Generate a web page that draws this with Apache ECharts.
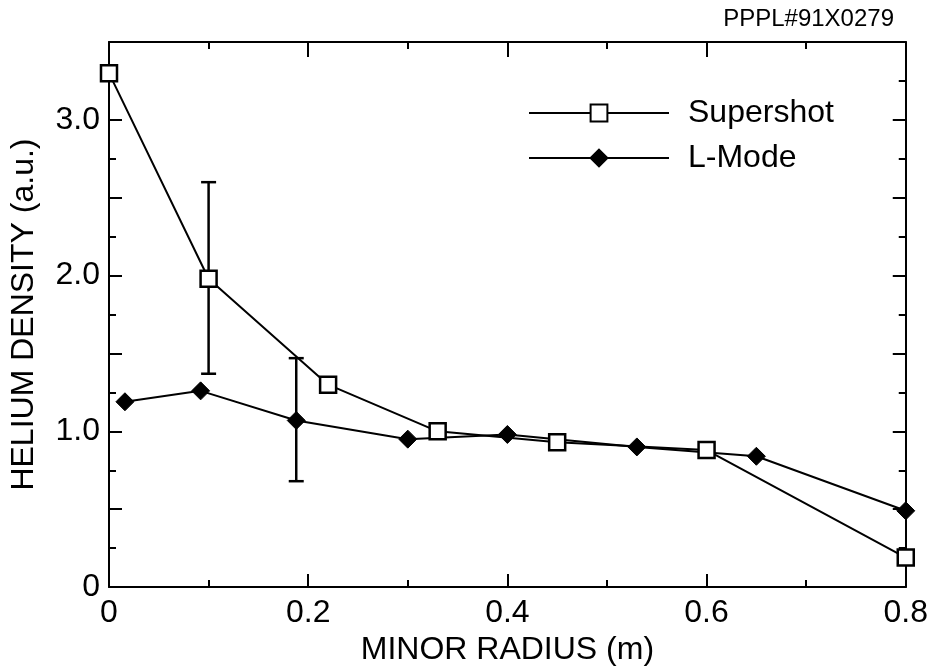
<!DOCTYPE html>
<html>
<head>
<meta charset="utf-8">
<script src="https://cdn.jsdelivr.net/npm/echarts@6/dist/echarts.min.js"></script>
<style>html,body{margin:0;padding:0;background:#fff;}#c{width:931px;height:671px;}</style>
</head>
<body>
<div id="c"></div>
<script>
const supershotX = [0.0, 0.10, 0.22, 0.33, 0.45, 0.60, 0.80];
const supershotY = [3.30, 1.98, 1.30, 1.00, 0.93, 0.88, 0.19];
const lmodeX = [0.016, 0.092, 0.188, 0.30, 0.40, 0.53, 0.65, 0.80];
const lmodeY = [1.19, 1.26, 1.07, 0.95, 0.98, 0.90, 0.84, 0.49];
const errX = [0.10, 0.188];
const errLow = [1.37, 0.68];
const errHigh = [2.60, 1.47];
const yTickLabels = {0: '0', 1: '1.0', 2: '2.0', 3: '3.0'};

const FONT = 'Liberation Sans, Arial, Helvetica, sans-serif';
const chart = echarts.init(document.getElementById('c'), null, {renderer: 'canvas'});

const axisCommon = {
  axisLine: {show: true, onZero: false, lineStyle: {color: '#000', width: 2}},
  axisTick: {show: true, inside: true, length: 13, lineStyle: {color: '#000', width: 2}},
  minorTick: {show: true, splitNumber: 2, length: 7, lineStyle: {color: '#000', width: 2}},
  splitLine: {show: false},
  minorSplitLine: {show: false}
};

const option = {
  backgroundColor: '#fff',
  animation: false,
  grid: {left: 108, right: 25, top: 42, bottom: 81, containLabel: false},
  title: {
    text: 'PPPL#91X0279', right: 32, top: 2,
    textStyle: {fontFamily: FONT, fontSize: 24, fontWeight: 'normal', color: '#000'}
  },
  legend: {
    left: 523, top: 92, orient: 'vertical', itemGap: 13,
    itemWidth: 140, itemHeight: 21,
    textStyle: {fontFamily: FONT, fontSize: 32, color: '#000', padding: [0, 0, 0, 14]},
    data: ['Supershot', 'L-Mode']
  },
  xAxis: [
    Object.assign({}, axisCommon, {
      type: 'value', position: 'bottom', min: 0, max: 0.8, interval: 0.2,
      name: 'MINOR RADIUS (m)', nameLocation: 'middle', nameGap: 43,
      nameTextStyle: {fontFamily: FONT, fontSize: 32, color: '#000'},
      axisLabel: {fontFamily: FONT, fontSize: 32, color: '#000', margin: 10,
        formatter: v => (v === 0 ? '0' : v.toFixed(1))}
    }),
    Object.assign({}, axisCommon, {
      type: 'value', position: 'top', min: 0, max: 0.8, interval: 0.2,
      axisTick: {show: true, inside: true, length: 15, lineStyle: {color: '#000', width: 2}},
      axisLabel: {show: false}
    })
  ],
  yAxis: [
    Object.assign({}, axisCommon, {
      type: 'value', position: 'left', min: 0, max: 3.5, interval: 0.5,
      name: 'HELIUM DENSITY (a.u.)', nameLocation: 'middle', nameGap: 69, nameRotate: 90,
      nameTextStyle: {fontFamily: FONT, fontSize: 32, color: '#000'},
      axisLabel: {fontFamily: FONT, fontSize: 32, color: '#000', margin: 9,
        formatter: v => (yTickLabels[v] !== undefined ? yTickLabels[v] : '')}
    }),
    Object.assign({}, axisCommon, {
      type: 'value', position: 'right', min: 0, max: 3.5, interval: 0.5,
      axisLabel: {show: false}
    })
  ],
  series: [
    {
      name: 'Supershot', type: 'line', xAxisIndex: 0, yAxisIndex: 0,
      data: supershotX.map((x, i) => [x, supershotY[i]]),
      symbol: 'rect', symbolSize: 16,
      lineStyle: {color: '#000', width: 2},
      itemStyle: {color: '#fff', borderColor: '#000', borderWidth: 2.5},
      z: 4
    },
    {
      name: 'L-Mode', type: 'line', xAxisIndex: 0, yAxisIndex: 0,
      data: lmodeX.map((x, i) => [x, lmodeY[i]]),
      symbol: 'diamond', symbolSize: [18, 18],
      lineStyle: {color: '#000', width: 2},
      itemStyle: {color: '#000', borderColor: '#000', borderWidth: 1},
      z: 3
    },
    {
      name: 'err', type: 'custom', xAxisIndex: 0, yAxisIndex: 0,
      data: errX.map((x, i) => [x, errLow[i], errHigh[i]]),
      renderItem: function (params, api) {
        const lo = api.coord([api.value(0), api.value(1)]);
        const hi = api.coord([api.value(0), api.value(2)]);
        const w = 7.5;
        const st = {stroke: '#000', lineWidth: 2.5};
        return {
          type: 'group',
          children: [
            {type: 'line', shape: {x1: lo[0], y1: lo[1], x2: hi[0], y2: hi[1]}, style: st},
            {type: 'line', shape: {x1: lo[0] - w, y1: lo[1], x2: lo[0] + w, y2: lo[1]}, style: st},
            {type: 'line', shape: {x1: hi[0] - w, y1: hi[1], x2: hi[0] + w, y2: hi[1]}, style: st}
          ]
        };
      },
      z: 2
    }
  ]
};
chart.setOption(option);
</script>
</body>
</html>
